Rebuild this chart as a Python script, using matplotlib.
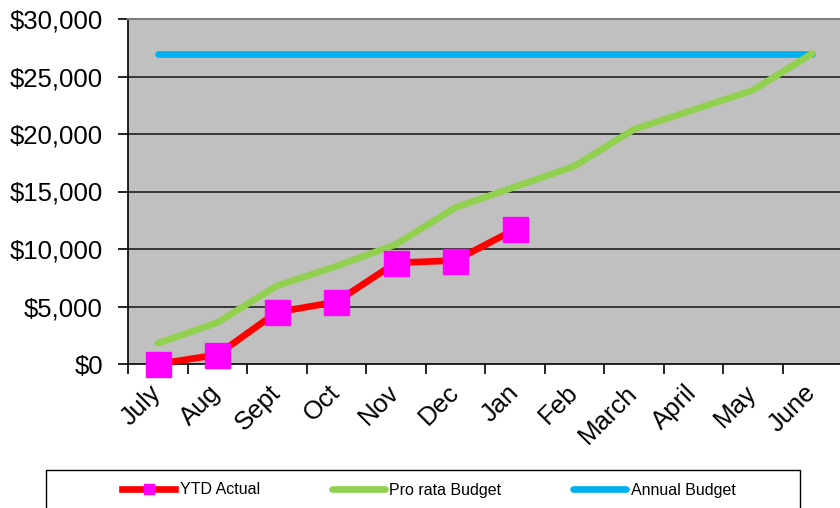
import matplotlib.pyplot as plt
from matplotlib.patches import Rectangle
from matplotlib.ticker import FuncFormatter
import numpy as np

plt.rcParams['font.family'] = ['Liberation Sans', 'DejaVu Sans']

months = ['July', 'Aug', 'Sept', 'Oct', 'Nov', 'Dec', 'Jan', 'Feb',
          'March', 'April', 'May', 'June']
ytd_actual = [0, 800, 4500, 5400, 8800, 9000, 11700]
pro_rata = [1800, 3600, 6800, 8500, 10400, 13600, 15400, 17200,
            20400, 22100, 23800, 27000]
annual = [27000] * 12

x = np.arange(len(months))

fig = plt.figure(figsize=(8.4, 5.08), dpi=100)
ax = fig.add_axes([128 / 840, 1 - 364 / 508, 714 / 840, 345 / 508])
ax.set_facecolor('#c0c0c0')

for yv in [5000, 10000, 15000, 20000, 25000]:
    ax.axhline(yv, color='#202020', lw=1.2, zorder=1)

ax.plot(x, annual, color='#00b0f0', lw=4.8, solid_capstyle='round',
        label='Annual Budget', zorder=3)
ax.plot(x, pro_rata, color='#92d050', lw=4.8, solid_capstyle='round',
        label='Pro rata Budget', zorder=3)
ax.plot(x[:len(ytd_actual)], ytd_actual, color='#ff0000', lw=4.8,
        marker='s', markersize=18, markerfacecolor='#ff00ff',
        markeredgecolor='#ff00ff', label='YTD Actual', zorder=4,
        clip_on=False)

ax.set_xlim(-0.5, len(months) - 0.5)
ax.set_ylim(0, 30000)
ax.set_yticks(np.arange(0, 30001, 5000))
ax.yaxis.set_major_formatter(FuncFormatter(lambda v, p: '${:,.0f}'.format(v)))
ax.tick_params(axis='y', labelsize=18.5, length=7, width=1.2, pad=11)

ax.set_xticks(x)
ax.set_xticklabels(months, rotation=45, ha='right', va='center',
                   rotation_mode='anchor', fontsize=18.5)
ax.set_xticks(np.arange(-0.5, len(months)), minor=True)
ax.tick_params(axis='x', which='major', length=0, pad=18)
ax.tick_params(axis='x', which='minor', length=7, width=1.2)

ax.spines['right'].set_visible(False)
ax.spines['top'].set_color('#808080')
ax.spines['top'].set_linewidth(1.5)
ax.spines['left'].set_linewidth(1.2)
ax.spines['bottom'].set_linewidth(1.2)

# legend box, cut off by the figure bottom
fig.patches.append(Rectangle((46 / 840, -0.05), 754 / 840, 0.05 + 38 / 508,
                             transform=fig.transFigure, fill=False,
                             edgecolor='black', lw=1))
h, l = ax.get_legend_handles_labels()
order = [2, 1, 0]
fig.legend([h[i] for i in order], [l[i] for i in order], loc='center',
           bbox_to_anchor=(429 / 840, 1 - 490 / 508), ncol=3, frameon=False,
           fontsize=11.5, handlelength=3.3, handletextpad=0.3,
           columnspacing=4.5, numpoints=1, markerscale=0.4)

fig.savefig('out.png', dpi=100)
